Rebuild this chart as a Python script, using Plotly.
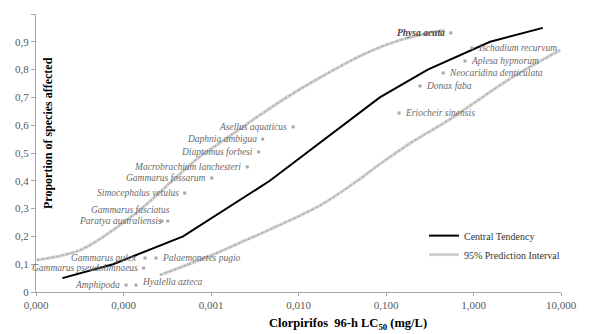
import math
import plotly.graph_objects as go

# ---------------- data ----------------
species = [
    "Physa acuta", "Ischadium recurvum", "Aplesa hypnorum", "Neocaridina denticulata",
    "Donax faba", "Eriocheir sinensis", "Asellus aquaticus", "Daphnia ambigua",
    "Diaptomus forbesi", "Macrobrachium lanchesteri", "Gammarus fossarum",
    "Simocephalus vetulus", "Gammarus fasciatus", "Paratya australiensis",
    "Gammarus pulex", "Palaemonetes pugio", "Gammarus pseudolimnaeus",
    "Amphipoda", "Hyalella azteca",
]
species_lc50 = [0.55, 0.96, 0.80, 0.45, 0.245, 0.141, 0.0087, 0.0039, 0.0035, 0.0026,
                0.00102, 0.00050, 0.000275, 0.00032, 0.000176, 0.000235, 0.00017,
                0.000107, 0.000139]
species_prop = [0.932, 0.878, 0.831, 0.788, 0.741, 0.644, 0.594, 0.55, 0.504, 0.45,
                0.41, 0.356, 0.255, 0.255, 0.122, 0.122, 0.086, 0.025, 0.025]

central_lc50 = [2.0e-5, 7.6e-5, 4.8e-4, 4.7e-3, 0.085, 0.30, 1.55, 6.2]
central_prop = [0.05, 0.10, 0.20, 0.40, 0.70, 0.80, 0.90, 0.95]

upper_lc50 = [1.02e-5, 3.2e-5, 8.5e-5, 1.9e-4, 3.7e-4, 7.4e-4, 1.26e-3, 3.0e-3,
              7.4e-3, 0.018, 0.060, 0.145, 0.35, 0.47]
upper_prop = [0.115, 0.151, 0.234, 0.320, 0.403, 0.486, 0.536, 0.619, 0.701,
              0.773, 0.860, 0.906, 0.935, 0.942]

lower_lc50 = [2.6e-4, 8.9e-4, 2.1e-3, 5.1e-3, 0.018, 0.047, 0.085, 0.20, 0.50,
              0.91, 2.8, 9.8]
lower_prop = [0.061, 0.125, 0.176, 0.230, 0.313, 0.40, 0.46, 0.54, 0.615, 0.67,
              0.773, 0.87]

x_tickvals = [1e-5, 1e-4, 1e-3, 1e-2, 1e-1, 1, 10]
x_ticktext = ["0,000", "0,000", "0,001", "0,010", "0,100", "1,000", "10,000"]
y_tickvals = [0, 0.1, 0.2, 0.3, 0.4, 0.5, 0.6, 0.7, 0.8, 0.9, 1]
y_ticktext = ["0", "0,1", "0,2", "0,3", "0,4", "0,5", "0,6", "0,7", "0,8", "0,9", "1"]

# ---------------- label placement (style) ----------------
right_labels = {"Ischadium recurvum", "Aplesa hypnorum", "Neocaridina denticulata",
                "Donax faba", "Eriocheir sinensis", "Palaemonetes pugio", "Hyalella azteca"}
label_yshift = {"Gammarus fasciatus": 11, "Hyalella azteca": 3}
label_xshift = {"Gammarus fasciatus": 14, "Gammarus pulex": -2}

FONT = "Liberation Serif"
fig = go.Figure()

# prediction interval (light band + speckled overlay)
for xs, ys, show in [(upper_lc50, upper_prop, True), (lower_lc50, lower_prop, False)]:
    fig.add_trace(go.Scatter(x=xs, y=ys, mode="lines", line=dict(color="#cfcfcf", width=3, shape="spline"),
                             name="95% Prediction Interval", showlegend=show, legendrank=2,
                             hoverinfo="skip"))
    fig.add_trace(go.Scatter(x=xs, y=ys, mode="lines",
                             line=dict(color="#9a9a9a", width=1, dash="2px,3px", shape="spline"),
                             showlegend=False, hoverinfo="skip"))

fig.add_trace(go.Scatter(x=central_lc50, y=central_prop, mode="lines",
                         line=dict(color="black", width=2), name="Central Tendency", legendrank=1))

fig.add_trace(go.Scatter(x=species_lc50, y=species_prop, mode="markers",
                         marker=dict(symbol="square", size=3, color="#a8a8a8"),
                         showlegend=False, text=species, hoverinfo="text"))

for name, xv, yv in zip(species, species_lc50, species_prop):
    right = name in right_labels
    dark = name == "Physa acuta"
    fig.add_annotation(
        x=math.log10(xv), y=yv, xref="x", yref="y", showarrow=False,
        text=("<b>%s</b>" % name) if dark else name,
        xanchor="left" if right else "right",
        xshift=(4 if right else -4) + label_xshift.get(name, 0),
        yshift=label_yshift.get(name, 0),
        font=dict(family=FONT, size=9.5, color="#444444" if dark else "#6a6a6a", style="italic"),
    )

fig.add_annotation(
    x=0.023, y=0.572, xref="paper", yref="paper", showarrow=False, textangle=-90,
    text="<b>Proportion of species affected</b>", xanchor="center", yanchor="middle",
    font=dict(family=FONT, size=12, color="black"),
)
fig.add_annotation(
    x=0.594, y=-0.116, xref="paper", yref="paper", showarrow=False,
    text="<b>Clorpirifos  96-h LC<sub>50</sub> (mg/L)</b>", xanchor="center", yanchor="middle",
    font=dict(family=FONT, size=12.5, color="black"),
)

fig.update_xaxes(type="log", range=[-5, 1], tickvals=x_tickvals, ticktext=x_ticktext,
                 showgrid=False, zeroline=False, showline=True, linecolor="#a6a6a6", linewidth=1,
                 ticks="outside", ticklen=3, tickcolor="#a6a6a6",
                 tickfont=dict(family=FONT, size=11, color="#595959"))
fig.update_yaxes(range=[0, 1], tickvals=y_tickvals, ticktext=y_ticktext,
                 showgrid=False, zeroline=False, showline=True, linecolor="#a6a6a6", linewidth=1,
                 ticks="outside", ticklen=4, tickcolor="#a6a6a6",
                 tickfont=dict(family=FONT, size=11, color="#595959"))

# page body has an 8px margin: shrink the figure so the plot area lands where the reference has it
fig.update_layout(
    width=582, height=326,
    margin=dict(l=28, r=29, t=6, b=42),
    plot_bgcolor="white", paper_bgcolor="white",
    font=dict(family=FONT),
    legend=dict(x=0.739, y=0.255, xanchor="left", yanchor="top", bgcolor="rgba(0,0,0,0)",
                font=dict(family=FONT, size=10, color="#333333"), tracegroupgap=0,
                itemwidth=30),
)

fig.write_html("out.html")
